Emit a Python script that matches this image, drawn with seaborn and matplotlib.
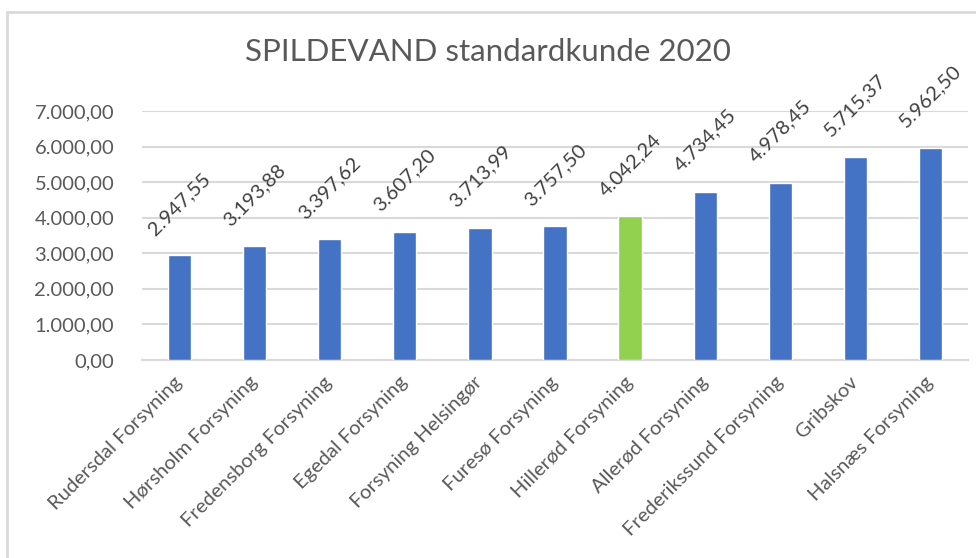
import pandas as pd
import seaborn as sns
import matplotlib.pyplot as plt
from matplotlib.patches import Rectangle
from matplotlib.ticker import FuncFormatter, FixedLocator

# data
selskaber = ['Rudersdal Forsyning', 'Hørsholm Forsyning', 'Fredensborg Forsyning',
             'Egedal Forsyning', 'Forsyning Helsingør', 'Furesø Forsyning',
             'Hillerød Forsyning', 'Allerød Forsyning', 'Frederikssund Forsyning',
             'Gribskov', 'Halsnæs Forsyning']
pris = [2947.55, 3193.88, 3397.62, 3607.20, 3713.99, 3757.50,
        4042.24, 4734.45, 4978.45, 5715.37, 5962.50]
fremhaev = 'Hillerød Forsyning'

BLAA = '#4472C4'
GROEN = '#92D050'
GRAA = '#d9d9d9'
TEKST = '#595959'


def dk(v):
    # dansk talformat: 2.947,55
    return f"{v:,.2f}".replace(',', 'X').replace('.', ',').replace('X', '.')


df = pd.DataFrame({'selskab': selskaber, 'pris': pris})
farver = {s: (GROEN if s == fremhaev else BLAA) for s in selskaber}

sns.set_style('white')
plt.rcParams['font.family'] = ['Lato', 'DejaVu Sans']

fig = plt.figure(figsize=(9.76, 5.58), dpi=100)
ax = fig.add_axes([142 / 976, 1 - 360 / 558, (968 - 142) / 976, (360 - 111) / 558])

sns.barplot(data=df, x='selskab', y='pris', hue='selskab', palette=farver,
            saturation=1, legend=False, width=0.31, ax=ax, zorder=3)

ax.set_ylim(0, 7000)
ax.set_xlim(-0.5, len(selskaber) - 0.5)
ax.set_yticks(range(0, 7001, 1000))
ax.yaxis.set_major_formatter(FuncFormatter(lambda v, p: dk(v)))
ax.grid(axis='y', color=GRAA, linewidth=1.5, zorder=0)
ax.set_xlabel('')
ax.set_ylabel('')

for s in ['left', 'right', 'top']:
    ax.spines[s].set_visible(False)
ax.spines['bottom'].set_color(GRAA)
ax.spines['bottom'].set_linewidth(1.5)

ax.tick_params(axis='y', length=0, labelsize=14.5, labelcolor=TEKST, pad=20)
ax.xaxis.set_minor_locator(FixedLocator([i - 0.5 for i in range(len(selskaber) + 1)]))
ax.tick_params(axis='x', which='minor', length=6, width=1.5, color=GRAA)
ax.tick_params(axis='x', which='major', length=0, labelsize=14.5, labelcolor=TEKST, pad=14)
for lbl in ax.get_xticklabels():
    lbl.set_rotation(45)
    lbl.set_ha('right')
    lbl.set_va('center')
    lbl.set_rotation_mode('anchor')

# værdier over søjlerne
for i, v in enumerate(pris):
    ax.annotate(dk(v), (i, v), xytext=(0, 37), textcoords='offset points',
                rotation=45, rotation_mode='anchor', ha='center', va='center',
                fontsize=14.5, color='#404040', zorder=5)

fig.text(0.5, 1 - 52 / 558, 'SPILDEVAND standardkunde 2020', ha='center', va='center',
         fontsize=22.5, color=TEKST)

# diagramramme
fig.patches.append(Rectangle((7 / 976, -0.1), 1.0, 1 - 12 / 558 + 0.1,
                             transform=fig.transFigure, fill=False,
                             edgecolor=GRAA, linewidth=2))

fig.savefig('out.png', dpi=100)
